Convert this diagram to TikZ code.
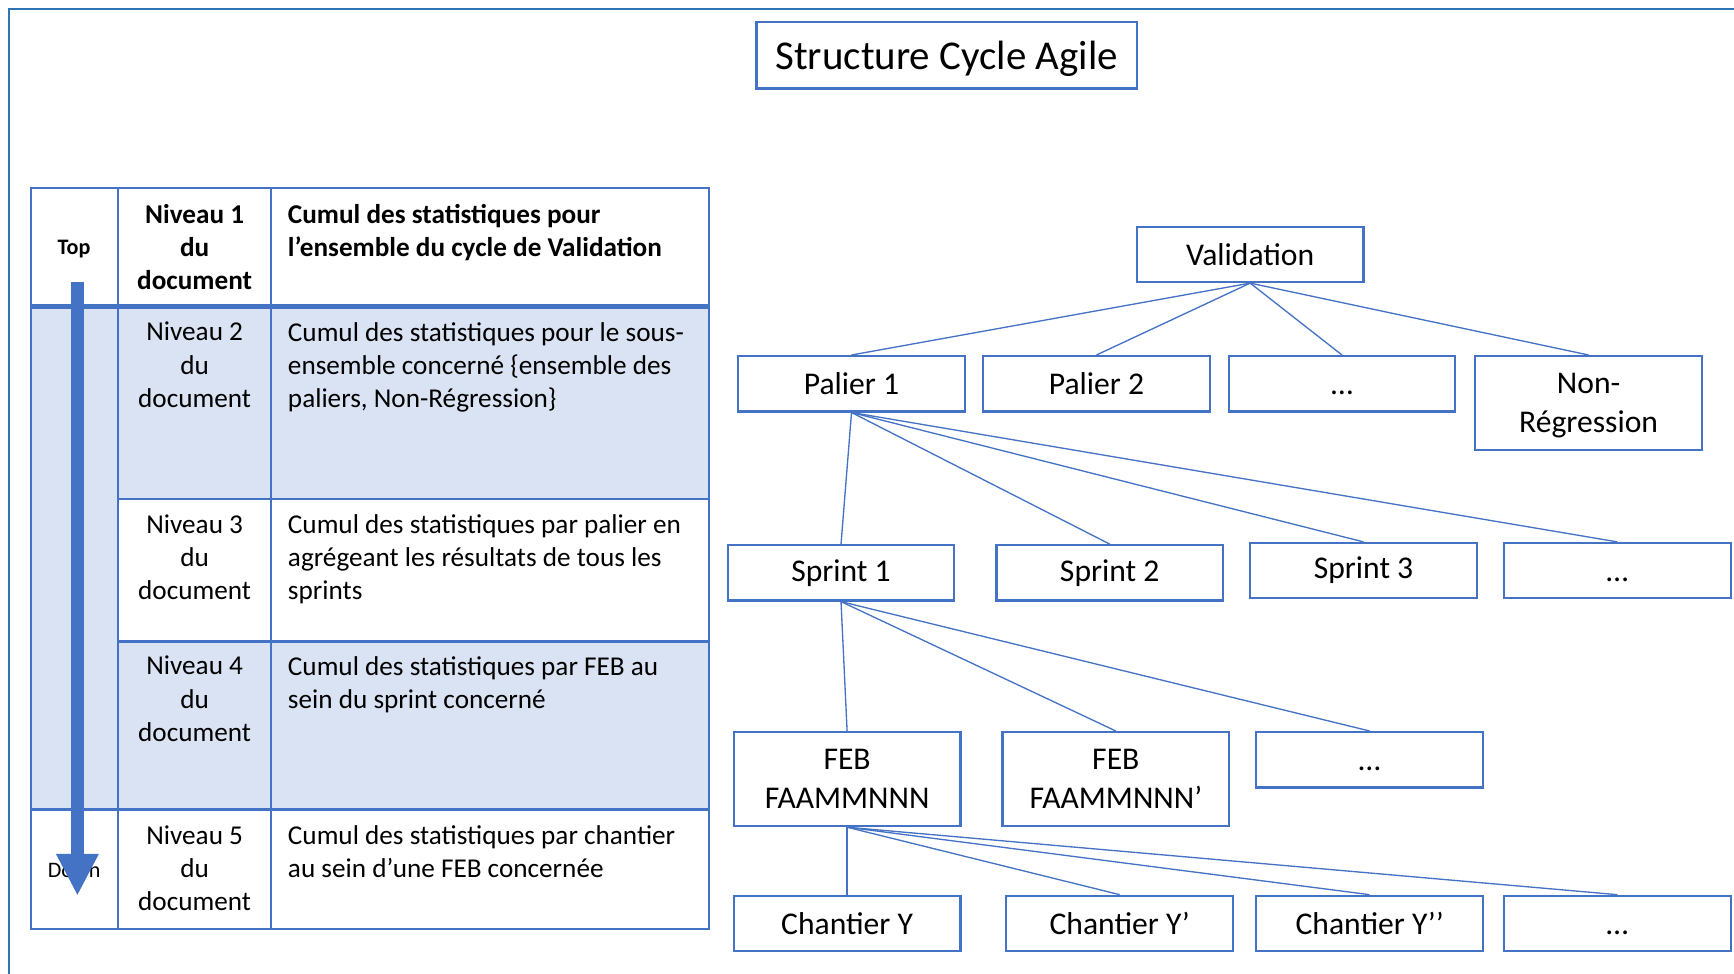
\documentclass[tikz,border=0pt]{standalone}
\usepackage{fontspec}
\setmainfont{Carlito}
\usetikzlibrary{arrows.meta}
\definecolor{bleu}{HTML}{4472C4}
\definecolor{bleuclair}{HTML}{DAE3F3}
\definecolor{cadre}{HTML}{2E75B6}
\newcommand{\tabfont}{\fontsize{12.3}{15}\selectfont}
\newcommand{\arbfont}{\fontsize{14.3}{17.5}\selectfont}
\newcommand{\etc}{\vphantom{Palier}…}

\begin{document}
\begin{tikzpicture}[x=0.5pt,y=0.5pt,
		boite/.style={draw=bleu,line width=1pt,minimum width=102.5pt,minimum height=25pt,inner sep=0pt,align=center,font=\arbfont},
		lien/.style={draw=bleu,line width=0.6pt},
		trait/.style={draw=bleu,line width=1pt},
		niveau/.style={anchor=north,inner sep=0pt,align=center,font=\tabfont},
		cumul/.style={anchor=north west,inner sep=0pt,align=left,font=\tabfont}]
			\useasboundingbox (0,0) rectangle (1568,-880);
			\draw [cadre,line width=1pt] (8,-895) -- (8,-8) -- (1585,-8);
			\node [boite,minimum width=172pt,minimum height=30pt,text depth=0pt,font=\fontsize{18.5}{22}\selectfont] (titre) at (856,-50) {Structure Cycle Agile};
			% tableau des niveaux
			\fill [bleuclair] (28,-277) rectangle (641,-451);
			\fill [bleuclair] (28,-451) rectangle (107,-580);
			\fill [bleuclair] (28,-580) rectangle (641,-732);
			\draw [trait] (28,-170) rectangle (641,-840);
			\draw [trait] (107,-170) -- (107,-840);
			\draw [trait] (245,-170) -- (245,-840);
			\draw [trait,line width=2pt] (28,-277) -- (641,-277);
			\draw [trait] (107,-451) -- (641,-451);
			\draw [trait] (107,-580) -- (641,-580);
			\draw [trait] (28,-732) -- (641,-732);
			\node [font=\fontsize{10}{12}\selectfont\bfseries] (top) at (67,-225) {Top};
			\node [font=\fontsize{10}{12}\selectfont] (down) at (67,-787) {Down};
			\node [niveau,font=\tabfont\bfseries] (niv1) at (176,-184) {Niveau 1\\du\\document};
			\node [cumul,font=\tabfont\bfseries] (cum1) at (260,-184) {Cumul des statistiques pour\\l’ensemble du cycle de Validation};
			\node [niveau] (niv2) at (176,-291) {Niveau 2\\du\\document};
			\node [cumul] (cum2) at (260,-291) {Cumul des statistiques pour le sous-\\ensemble concerné \{ensemble des\\paliers, Non-Régression\}};
			\node [niveau] (niv3) at (176,-465) {Niveau 3\\du\\document};
			\node [cumul] (cum3) at (260,-465) {Cumul des statistiques par palier en\\agrégeant les résultats de tous les\\sprints};
			\node [niveau] (niv4) at (176,-593) {Niveau 4\\du\\document};
			\node [cumul] (cum4) at (260,-593) {Cumul des statistiques par FEB au\\sein du sprint concerné};
			\node [niveau] (niv5) at (176,-746) {Niveau 5\\du\\document};
			\node [cumul] (cum5) at (260,-746) {Cumul des statistiques par chantier\\au sein d’une FEB concernée};
			\coordinate (haut) at (70,-255);
			\coordinate (bas) at (70,-810);
			\draw [bleu,line width=6pt,-{Triangle[width=18pt,length=19pt]}] (haut) -- (bas);
			% arbre
			\node [boite] (val) at (1130.5,-230) {Validation};
			\node [boite] (pal1) at (770,-347) {Palier 1};
			\node [boite] (pal2) at (991.5,-347) {Palier 2};
			\node [boite] (paldots) at (1213.5,-347) {\etc};
			\node [boite,minimum height=42.5pt,text depth=0pt] (nonreg) at (1436.5,-364.5) {Non-\\Régression};
			\node [boite] (spr1) at (760.5,-518) {Sprint 1};
			\node [boite] (spr2) at (1003.5,-518) {Sprint 2};
			\node [boite] (spr3) at (1233,-516) {Sprint 3};
			\node [boite] (sprdots) at (1462.5,-516) {\etc};
			\node [boite,minimum height=42.5pt] (feb1) at (766,-704.5) {FEB\\FAAMMNNN};
			\node [boite,minimum height=42.5pt] (feb2) at (1009,-704.5) {FEB\\FAAMMNNN’};
			\node [boite] (febdots) at (1238.5,-687) {\etc};
			\node [boite] (ch1) at (766,-835) {Chantier Y};
			\node [boite] (ch2) at (1012.5,-835) {Chantier Y’};
			\node [boite] (ch3) at (1238.5,-835) {Chantier Y’’};
			\node [boite] (chdots) at (1462.5,-835) {\etc};
			\draw [lien] (val.south) -- (pal1.north);
			\draw [lien] (val.south) -- (pal2.north);
			\draw [lien] (val.south) -- (paldots.north);
			\draw [lien] (val.south) -- (nonreg.north);
			\draw [lien] (pal1.south) -- (spr1.north);
			\draw [lien] (pal1.south) -- (spr2.north);
			\draw [lien] (pal1.south) -- (spr3.north);
			\draw [lien] (pal1.south) -- (sprdots.north);
			\draw [lien] (spr1.south) -- (feb1.north);
			\draw [lien] (spr1.south) -- (feb2.north);
			\draw [lien] (spr1.south) -- (febdots.north);
			\draw [lien] (feb1.south) -- (ch1.north);
			\draw [lien] (feb1.south) -- (ch2.north);
			\draw [lien] (feb1.south) -- (ch3.north);
			\draw [lien] (feb1.south) -- (chdots.north);
		\end{tikzpicture}
\end{document}
